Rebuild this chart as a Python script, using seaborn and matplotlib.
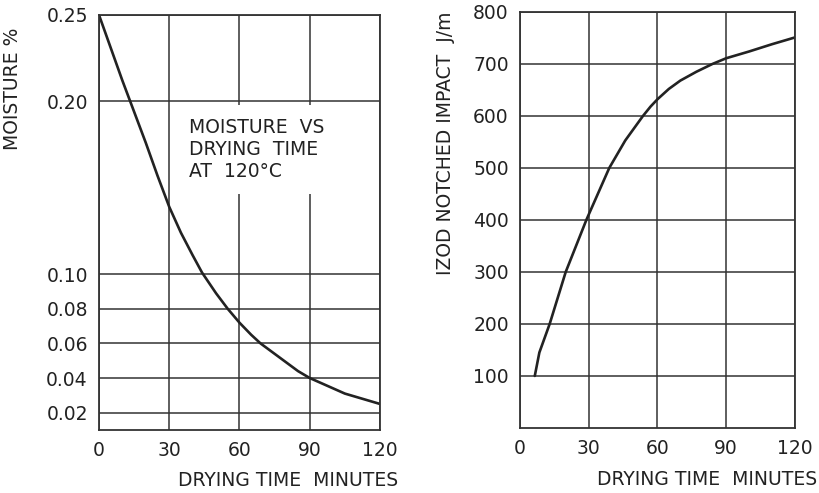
import pandas as pd
import matplotlib
matplotlib.use("Agg")
import matplotlib.pyplot as plt
import seaborn as sns

# Moisture vs drying time (left panel)
moist_time = [0, 5, 10, 15, 20, 25, 30, 35, 40, 44, 50, 55, 60, 65, 69, 75,
              80, 85, 90, 95, 100, 105, 110, 115, 120]
moist_pct = [0.25, 0.231, 0.212, 0.194, 0.176, 0.157, 0.139, 0.124, 0.111,
             0.101, 0.089, 0.080, 0.072, 0.065, 0.060, 0.054, 0.049, 0.044,
             0.040, 0.037, 0.034, 0.031, 0.029, 0.027, 0.025]

# Izod notched impact vs drying time (right panel)
izod_time = [6.5, 8.5, 13, 20, 29, 34, 39, 46, 53.7, 57, 60, 65, 70, 77, 84,
             90, 100, 110, 120]
izod_val = [100, 145, 200, 300, 400, 450, 500, 553, 600, 618, 632, 652, 668,
            685, 700, 711, 724, 738, 751]

x_ticks = [0, 30, 60, 90, 120]
moist_ticks = [0.02, 0.04, 0.06, 0.08, 0.10, 0.20, 0.25]
moist_tick_labels = ["0.02", "0.04", "0.06", "0.08", "0.10", "0.20", "0.25"]
izod_ticks = [100, 200, 300, 400, 500, 600, 700, 800]

df_m = pd.DataFrame({"t": moist_time, "m": moist_pct})
df_i = pd.DataFrame({"t": izod_time, "v": izod_val})

sns.set_theme(style="white")
plt.rcParams["font.family"] = ["DejaVu Sans"]
ink = "#222222"
fs = 13.5

fig = plt.figure(figsize=(8.2, 4.93), dpi=100)
ax1 = fig.add_axes([0.1207, 0.128, 0.3427, 0.8418])
ax2 = fig.add_axes([0.634, 0.132, 0.3354, 0.8437])

for ax in (ax1, ax2):
    ax.set_axisbelow(True)
    ax.grid(True, color="#333333", linewidth=1.1)
    for s in ax.spines.values():
        s.set_color("#333333")
        s.set_linewidth(1.3)
    ax.tick_params(length=0, labelsize=fs, colors=ink, pad=8)
    ax.set_xlim(0, 120)
    ax.set_xticks(x_ticks)

# left panel
sns.lineplot(data=df_m, x="t", y="m", ax=ax1, color=ink, linewidth=1.9)
ax1.set_ylim(0.01, 0.25)
ax1.set_yticks(moist_ticks)
ax1.set_yticklabels(moist_tick_labels)
ax1.set_xlabel("DRYING TIME  MINUTES", fontsize=fs, color=ink, loc="right")
ax1.xaxis.set_label_coords(1.065, -0.1)
ax1.set_ylabel("MOISTURE %", fontsize=fs, color=ink, loc="top")
ax1.yaxis.set_label_coords(-0.275, 0.97)
ax1.text(38.5, 0.172, "MOISTURE  VS\nDRYING  TIME\nAT  120°C", fontsize=fs,
         color=ink, ha="left", va="center", linespacing=1.2, zorder=5,
         bbox=dict(boxstyle="square,pad=0.7", fc="white", ec="none"))

# right panel
sns.lineplot(data=df_i, x="t", y="v", ax=ax2, color=ink, linewidth=1.9)
ax2.set_ylim(0, 800)
ax2.set_yticks(izod_ticks)
ax2.set_xlabel("DRYING TIME  MINUTES", fontsize=fs, color=ink, loc="right")
ax2.xaxis.set_label_coords(1.08, -0.1)
ax2.set_ylabel("IZOD NOTCHED IMPACT  J/m", fontsize=fs, color=ink, loc="top")
ax2.yaxis.set_label_coords(-0.235, 1.0)

fig.savefig("out.png", dpi=100)
